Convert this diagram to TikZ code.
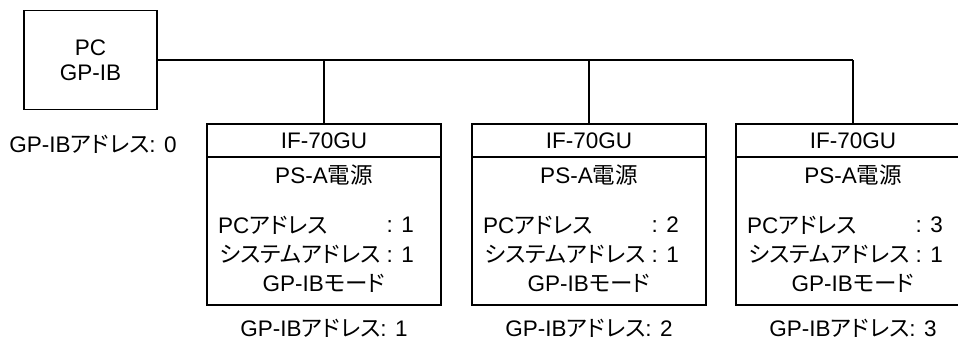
\documentclass[tikz,border=0pt]{standalone}
\usepackage{fontspec}
\setmainfont{Liberation Sans}
\newfontfamily\jpfont[RawFeature=+palt]{Noto Sans CJK JP}
\newcommand{\ja}[1]{{\jpfont #1}}
\usepackage{tikz}
\usetikzlibrary{positioning,calc}

\tikzset{
  unitbox/.style={draw, line width=1.5pt, minimum width=234pt, minimum height=181pt, inner sep=0pt},
  pcbox/.style={draw, line width=1.5pt, minimum width=133pt, minimum height=99pt, align=center},
  txt/.style={inner sep=0pt, font=\fontsize{22.5}{25}\selectfont}
}

\begin{document}
\begin{tikzpicture}[x=1pt, y=-1pt]
    \clip (0,0) rectangle (958,351);
    \useasboundingbox (0,0) rectangle (958,351);

    % PC with GP-IB
    \node[pcbox, font=\fontsize{22.5}{25}\selectfont] (pc) at (90.5,60) {PC\\GP-IB};
    \node[txt] (pcaddr) at (93,144) {GP-IB\ja{アドレス}: 0};

    % Three IF-70GU units
    \foreach \i/\xc in {1/324, 2/589, 3/853} {
        \node[unitbox] (box\i) at (\xc,214.5) {};
        \draw[line width=1.5pt] (box\i.west |- 0,157) -- (box\i.east |- 0,157);
        \node[txt] (title\i) at (\xc,141) {IF-70GU};
        \node[txt] (psu\i) at (\xc,175) {PS-A\ja{電源}};
        \node[txt, anchor=west] (pca\i) at (\xc-106,225) {PC\ja{アドレス}};
        \node[txt, anchor=east] (pcv\i) at (\xc+90,225) {: \i};
        \node[txt, anchor=east] (sys\i) at (\xc+90,254) {\ja{システムアドレス} : 1};
        \node[txt] (mode\i) at (\xc,283) {GP-IB\ja{モード}};
        \node[txt] (addr\i) at (\xc,328) {GP-IB\ja{アドレス}: \i};

        % drop from the bus
        \coordinate (tap\i) at (\xc,60);
        \draw[line width=1.5pt] (tap\i) -- (box\i.north);
    }

    % GP-IB bus
    \draw[line width=1.5pt] (pc.east) -- (tap3);

\end{tikzpicture}
\end{document}
